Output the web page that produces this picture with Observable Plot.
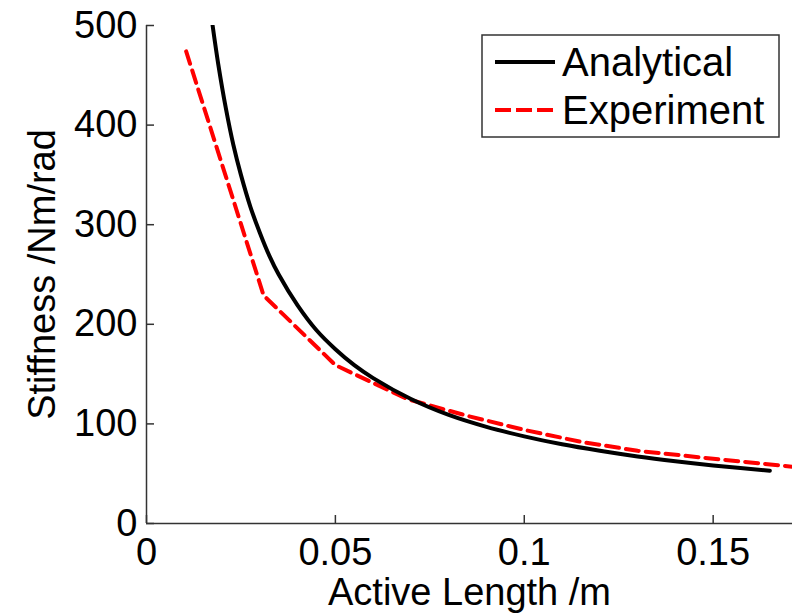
<!DOCTYPE html>
<html>
<head>
<meta charset="utf-8">
<script src="https://cdn.jsdelivr.net/npm/d3@7"></script>
<script src="https://cdn.jsdelivr.net/npm/@observablehq/plot@0.6"></script>
<style>
  html, body { margin: 0; padding: 0; background: #fff; }
  #wrap { position: relative; width: 792px; height: 614px; overflow: hidden; }
  #legend { position: absolute; left: 0; top: 0; }
</style>
</head>
<body>
<div id="wrap"></div>
<script>
// Data
const analyticalLength = [0.0175, 0.019, 0.021, 0.023, 0.025, 0.0275, 0.03, 0.0325, 0.035, 0.04, 0.045, 0.05, 0.055, 0.06, 0.07, 0.08, 0.09, 0.1, 0.11, 0.12, 0.13, 0.14, 0.15, 0.165];
const analyticalStiffness = [500, 461, 417, 380, 350, 318, 292, 269, 250, 219, 194, 175, 159, 146, 125, 109, 97, 87.5, 79.5, 73, 67.3, 62.5, 58.3, 53];
const experimentLength = [0.0105, 0.031, 0.05, 0.069, 0.085, 0.1, 0.115, 0.13, 0.15, 0.171];
const experimentStiffness = [474, 229, 159, 125, 108, 94, 82, 73, 65, 57];
const seriesNames = ["Analytical", "Experiment"];
const xTicks = [0, 0.05, 0.1, 0.15];
const xTickLabels = ["0", "0.05", "0.1", "0.15"];
const yTicks = [0, 100, 200, 300, 400, 500];
const xLabel = "Active Length /m";
const yLabel = "Stiffness /Nm/rad";

const analytical = analyticalLength.map((x, i) => ({x, y: analyticalStiffness[i]}));
const experiment = experimentLength.map((x, i) => ({x, y: experimentStiffness[i]}));

const font = "'Liberation Sans', Arial, Helvetica, sans-serif";
const axisColor = "#333";

const chart = Plot.plot({
  width: 792,
  height: 614,
  marginLeft: 146,
  marginRight: 0,
  marginTop: 25,
  marginBottom: 91,
  style: {fontFamily: font, fontSize: "38px", color: "#000", background: "#fff", overflow: "hidden"},
  x: {domain: [0, 0.171]},
  y: {domain: [0, 500]},
  marks: [
    // tick labels
    Plot.axisX({ticks: xTicks, tickSize: 0, tickPadding: 15, tickFormat: (d) => xTickLabels[xTicks.indexOf(d)], label: null, fontSize: 38}),
    Plot.axisY({ticks: yTicks, tickSize: 0, tickPadding: 9, label: null, fontSize: 38}),
    // inward ticks
    Plot.axisX({ticks: xTicks, tickSize: -8, text: null, label: null, stroke: axisColor, strokeWidth: 1.5}),
    Plot.axisY({ticks: yTicks, tickSize: -8, text: null, label: null, stroke: axisColor, strokeWidth: 1.5}),
    // axis lines
    Plot.ruleX([0], {stroke: axisColor, strokeWidth: 1.5}),
    Plot.ruleY([0], {stroke: axisColor, strokeWidth: 1.5}),
    // series
    Plot.line(experiment, {x: "x", y: "y", stroke: "#ff0000", strokeWidth: 4, strokeDasharray: "13,7", clip: true}),
    Plot.line(analytical, {x: "x", y: "y", stroke: "#000", strokeWidth: 4, curve: "catmull-rom", clip: true}),
    // axis titles
    Plot.text([xLabel], {frameAnchor: "bottom", dy: 69, fontSize: 38, fill: "#000", lineAnchor: "middle", textAnchor: "middle"}),
    Plot.text([yLabel], {frameAnchor: "left", dx: -104, rotate: -90, fontSize: 38, fill: "#000", lineAnchor: "middle", textAnchor: "middle"})
  ]
});

const wrap = document.getElementById("wrap");
wrap.appendChild(chart);

// legend overlay
const ns = "http://www.w3.org/2000/svg";
const lg = document.createElementNS(ns, "svg");
lg.setAttribute("id", "legend");
lg.setAttribute("width", 792);
lg.setAttribute("height", 614);
const box = document.createElementNS(ns, "rect");
box.setAttribute("x", 482); box.setAttribute("y", 35);
box.setAttribute("width", 297); box.setAttribute("height", 102);
box.setAttribute("fill", "#fff"); box.setAttribute("stroke", axisColor); box.setAttribute("stroke-width", 1.5);
lg.appendChild(box);
const styles = [{stroke: "#000", dash: null, y: 62}, {stroke: "#ff0000", dash: "16,5", y: 110}];
seriesNames.forEach((name, i) => {
  const s = styles[i];
  const ln = document.createElementNS(ns, "line");
  ln.setAttribute("x1", 495); ln.setAttribute("x2", 555);
  ln.setAttribute("y1", s.y); ln.setAttribute("y2", s.y);
  ln.setAttribute("stroke", s.stroke); ln.setAttribute("stroke-width", 4);
  if (s.dash) ln.setAttribute("stroke-dasharray", s.dash);
  lg.appendChild(ln);
  const t = document.createElementNS(ns, "text");
  t.setAttribute("x", 562); t.setAttribute("y", s.y + 14);
  t.setAttribute("font-family", font); t.setAttribute("font-size", 40);
  t.setAttribute("fill", "#000");
  t.textContent = name;
  lg.appendChild(t);
});
wrap.appendChild(lg);
</script>
</body>
</html>
